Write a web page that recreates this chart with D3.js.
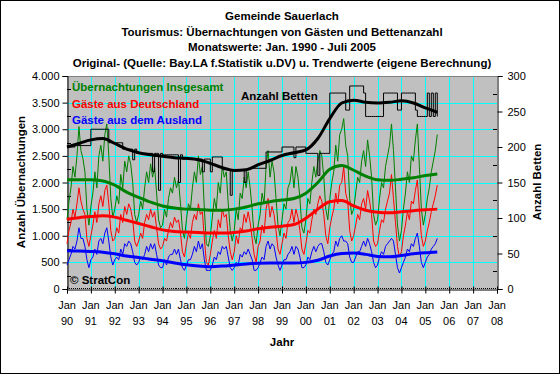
<!DOCTYPE html>
<html>
<head>
  <meta charset="utf-8">
  <title>Gemeinde Sauerlach - Tourismus</title>
  <script src="https://d3js.org/d3.v7.min.js"></script>
  <style>
    body { margin: 0; background: white; }
    svg text { font-family: 'Liberation Sans', Arial, sans-serif; }
    .title { font-size: 11.5px; font-weight: bold; }
    .tick-label { font-size: 11px; }
    .axis-title { font-size: 11.5px; font-weight: bold; }
    .legend { font-size: 11.5px; font-weight: bold; }
  </style>
</head>
<body>
  <svg id="chart"></svg>

  <script type="text/javascript">
    // --- data ---
    var titleLines = [
      "Gemeinde Sauerlach",
      "Tourismus: \u00dcbernachtungen von G\u00e4sten und Bettenanzahl",
      "Monatswerte: Jan. 1990 - Juli 2005",
      "Original- (Quelle: Bay.LA f.Statistik u.DV) u. Trendwerte (eigene Berechnung)"
    ];
    var yTicksLeft = [0, 500, 1000, 1500, 2000, 2500, 3000, 3500, 4000];
    var yTicksRight = [0, 50, 100, 150, 200, 250, 300];
    var xTickYears = [1990, 1991, 1992, 1993, 1994, 1995, 1996, 1997, 1998, 1999,
                      2000, 2001, 2002, 2003, 2004, 2005, 2006, 2007, 2008];
    var xTickLabels = ["90", "91", "92", "93", "94", "95", "96", "97", "98", "99",
                       "00", "01", "02", "03", "04", "05", "06", "07", "08"];

    // monthly values Jan 1990 - Jul 2005, one row per year
    var total = [
      [1300, 1650, 1900, 2300, 2100, 2500, 3050, 2600, 2450, 2200, 1500, 1200],
      [1550, 1800, 2200, 1900, 2500, 2700, 2400, 2900, 3100, 2500, 1700, 1350],
      [1500, 1750, 1600, 2150, 1900, 2400, 2200, 2500, 2350, 2000, 1400, 1250],
      [1400, 1650, 1500, 1900, 2200, 2000, 2350, 2100, 2300, 1800, 1300, 1150],
      [1200, 1500, 1350, 1700, 1900, 1800, 2100, 1900, 2050, 1600, 1100, 950],
      [1300, 1600, 1500, 1900, 2200, 2000, 2500, 2150, 2300, 1500, 850, 800],
      [1000, 1350, 1700, 1500, 2000, 1800, 2300, 2100, 2200, 1600, 1100, 900],
      [1100, 1500, 1300, 1800, 1700, 2100, 1900, 2200, 1900, 1500, 1000, 850],
      [1200, 1400, 1800, 1600, 2300, 2600, 2100, 2400, 2200, 1700, 1200, 1000],
      [1300, 1600, 1500, 1900, 2000, 2300, 1900, 2300, 2100, 1700, 1150, 1050],
      [1300, 1700, 1600, 2000, 2300, 2100, 2400, 2600, 2500, 2100, 1500, 1300],
      [1700, 2000, 2200, 2700, 2400, 2900, 3000, 3200, 2700, 2500, 1700, 1400],
      [1500, 1800, 2100, 2000, 2400, 2600, 2300, 2800, 2500, 2100, 1400, 1200],
      [1300, 1700, 2000, 1900, 2300, 2500, 2700, 3100, 2600, 1900, 1200, 900],
      [1100, 1500, 1800, 2200, 2000, 2500, 2400, 2800, 3100, 2300, 1500, 1200],
      [1400, 1700, 1900, 2200, 2400, 2600, 2900]
    ].flat();

    var germany = [
      [850, 1100, 1250, 1500, 1350, 1600, 1900, 1650, 1500, 1400, 950, 800],
      [1000, 1200, 1450, 1250, 1600, 1750, 1550, 1850, 1950, 1600, 1100, 900],
      [950, 1150, 1050, 1400, 1250, 1550, 1400, 1600, 1500, 1300, 900, 800],
      [900, 1050, 950, 1250, 1400, 1300, 1500, 1350, 1450, 1150, 850, 750],
      [800, 950, 900, 1100, 1250, 1150, 1350, 1250, 1300, 1050, 700, 600],
      [850, 1050, 950, 1250, 1400, 1300, 1600, 1400, 1450, 950, 500, 450],
      [650, 900, 1100, 950, 1300, 1150, 1500, 1350, 1400, 1000, 700, 550],
      [700, 1000, 850, 1150, 1100, 1400, 1250, 1450, 1250, 950, 650, 500],
      [800, 900, 1200, 1050, 1500, 1700, 1350, 1550, 1400, 1100, 750, 650],
      [850, 1050, 950, 1250, 1300, 1500, 1250, 1500, 1350, 1100, 750, 650],
      [850, 1100, 1050, 1300, 1500, 1400, 1600, 1750, 1650, 1400, 1000, 850],
      [1150, 1350, 1500, 1800, 1600, 1950, 2000, 2300, 1800, 1650, 1100, 900],
      [1000, 1200, 1400, 1300, 1600, 1700, 1500, 1850, 1650, 1400, 900, 800],
      [850, 1100, 1300, 1250, 1500, 1650, 1800, 2150, 1700, 1250, 800, 600],
      [700, 1000, 1200, 1450, 1300, 1650, 1600, 1850, 2050, 1500, 1000, 800],
      [900, 1100, 1250, 1450, 1600, 1750, 1950]
    ].flat();

    var abroad = [
      [450, 550, 650, 800, 750, 900, 1150, 950, 950, 800, 550, 400],
      [550, 600, 750, 650, 900, 950, 850, 1050, 1150, 900, 600, 450],
      [550, 600, 550, 750, 650, 850, 800, 900, 850, 700, 500, 450],
      [500, 600, 550, 650, 800, 700, 850, 750, 850, 650, 450, 400],
      [400, 550, 450, 600, 650, 650, 750, 650, 750, 550, 400, 350],
      [450, 550, 550, 650, 800, 700, 900, 750, 850, 550, 350, 350],
      [350, 450, 600, 550, 700, 650, 800, 750, 800, 600, 400, 350],
      [400, 500, 450, 650, 600, 700, 650, 750, 650, 550, 350, 350],
      [400, 500, 600, 550, 800, 900, 750, 850, 800, 600, 450, 350],
      [450, 550, 550, 650, 700, 800, 650, 800, 750, 600, 400, 400],
      [450, 600, 550, 700, 800, 700, 800, 850, 850, 700, 500, 450],
      [550, 650, 700, 900, 800, 950, 1000, 900, 900, 850, 600, 500],
      [500, 600, 700, 700, 800, 900, 800, 950, 850, 700, 500, 400],
      [450, 600, 700, 650, 800, 850, 900, 950, 900, 650, 400, 300],
      [400, 500, 600, 750, 700, 850, 800, 950, 1050, 800, 500, 400],
      [500, 600, 650, 750, 800, 850, 950]
    ].flat();

    var beds = [
      [200, 200, 200, 200, 202, 202, 202, 202, 202, 202, 202, 202],
      [225, 225, 225, 225, 225, 225, 225, 225, 225, 206, 206, 206],
      [206, 206, 206, 206, 197, 197, 197, 197, 197, 182, 197, 191],
      [191, 191, 191, 191, 191, 191, 191, 165, 191, 191, 139, 191],
      [189, 189, 189, 189, 189, 189, 189, 189, 150, 189, 183, 183],
      [183, 183, 183, 183, 183, 183, 183, 183, 165, 183, 183, 183],
      [165, 186, 186, 186, 186, 186, 168, 168, 168, 168, 132, 168],
      [168, 168, 168, 168, 168, 150, 168, 170, 170, 170, 170, 170],
      [170, 170, 170, 170, 193, 193, 193, 193, 193, 193, 193, 193],
      [200, 200, 200, 200, 200, 200, 185, 200, 200, 200, 200, 200],
      [191, 191, 191, 191, 191, 191, 160, 191, 191, 191, 191, 191],
      [276, 276, 276, 276, 276, 276, 276, 276, 252, 252, 286, 286],
      [286, 286, 286, 286, 286, 276, 243, 243, 243, 243, 243, 243],
      [243, 243, 243, 276, 276, 276, 276, 276, 276, 276, 252, 252],
      [276, 276, 276, 276, 276, 276, 276, 252, 243, 243, 243, 243],
      [243, 276, 243, 276, 243, 276, 243]
    ].flat();

    // trend values, half-yearly
    var trendTime = [1990, 1990.5, 1991, 1991.5, 1992, 1992.5, 1993, 1993.5, 1994, 1994.5,
                     1995, 1995.5, 1996, 1996.5, 1997, 1997.5, 1998, 1998.5, 1999, 1999.5,
                     2000, 2000.5, 2001, 2001.5, 2002, 2002.5, 2003, 2003.5, 2004, 2004.5,
                     2005, 2005.5];
    var trendTotal = [2050, 2050, 2050, 2030, 1950, 1820, 1720, 1630, 1560, 1520,
                      1500, 1495, 1480, 1480, 1500, 1540, 1600, 1640, 1670, 1700,
                      1800, 2000, 2250, 2320, 2230, 2120, 2050, 2040, 2060, 2090,
                      2130, 2160];
    var trendGermany = [1310, 1340, 1360, 1375, 1350, 1290, 1230, 1170, 1110, 1080,
                        1070, 1060, 1050, 1050, 1060, 1090, 1130, 1160, 1180, 1210,
                        1330, 1500, 1640, 1660, 1560, 1480, 1440, 1430, 1450, 1470,
                        1490, 1500];
    var trendAbroad = [720, 715, 705, 690, 660, 620, 590, 560, 530, 490,
                       455, 430, 420, 430, 450, 470, 485, 490, 490, 490,
                       500, 540, 620, 665, 675, 650, 610, 605, 630, 660,
                       680, 695];
    var trendBeds = [200, 205, 210, 212, 205, 197, 192, 189, 187, 185,
                     184, 182, 177, 171, 167, 168, 175, 181, 188, 192,
                     196, 212, 240, 262, 266, 263, 262, 263, 265, 262,
                     255, 249];

    // --- layout ---
    var width = 560;
    var height = 374;
    var plot = { left: 67, right: 497, top: 76, bottom: 289 };

    var svg = d3.select("#chart").attr("width", width).attr("height", height);

    // outer frame
    svg.append("rect")
      .attr("x", 0.5).attr("y", 0.5)
      .attr("width", width - 1).attr("height", height - 1)
      .attr("fill", "white").attr("stroke", "black");

    var x = d3.scaleLinear().domain([1990, 2008]).range([plot.left, plot.right]);
    var yL = d3.scaleLinear().domain([0, 4000]).range([plot.bottom, plot.top]);
    var yR = d3.scaleLinear().domain([0, 300]).range([plot.bottom, plot.top]);

    // titles
    svg.selectAll(".title")
      .data(titleLines)
      .enter().append("text")
      .attr("class", "title")
      .attr("x", 282)
      .attr("y", (d, i) => 20 + i * 15.5)
      .attr("text-anchor", "middle")
      .text(d => d);

    // plot background
    svg.append("rect")
      .attr("x", plot.left).attr("y", plot.top)
      .attr("width", plot.right - plot.left).attr("height", plot.bottom - plot.top)
      .attr("fill", "#c0c0c0");

    // gridlines
    var grid = svg.append("g").attr("stroke", "#00ffff").attr("stroke-width", 1);
    grid.selectAll(".hgrid")
      .data(yTicksLeft.filter(d => d > 0 && d < 4000))
      .enter().append("line")
      .attr("x1", plot.left).attr("x2", plot.right)
      .attr("y1", d => Math.round(yL(d)) + 0.5).attr("y2", d => Math.round(yL(d)) + 0.5);
    grid.selectAll(".vgrid")
      .data(xTickYears.filter(d => d > 1990 && d < 2008))
      .enter().append("line")
      .attr("y1", plot.top).attr("y2", plot.bottom)
      .attr("x1", d => Math.round(x(d)) + 0.5).attr("x2", d => Math.round(x(d)) + 0.5);

    // plot border
    svg.append("line")
      .attr("x1", plot.left).attr("x2", plot.right)
      .attr("y1", plot.top + 0.5).attr("y2", plot.top + 0.5)
      .attr("stroke", "#808080");

    // axes
    var leftAxis = d3.axisLeft(yL).tickValues(yTicksLeft).tickSize(5).tickPadding(3)
      .tickFormat(d => d3.format(",")(d).replace(",", "."));
    var gl = svg.append("g").attr("transform", `translate(${plot.left + 0.5},0)`).call(leftAxis);

    var rightAxis = d3.axisRight(yR).tickValues(yTicksRight).tickSize(5).tickPadding(5);
    var gr = svg.append("g").attr("transform", `translate(${plot.right + 0.5},0)`).call(rightAxis);

    var bottomAxis = d3.axisBottom(x).tickValues(xTickYears).tickSize(4).tickFormat("");
    var gb = svg.append("g").attr("transform", `translate(0,${plot.bottom + 0.5})`).call(bottomAxis);

    [gl, gr, gb].forEach(g => {
      g.select(".domain").attr("stroke", "black");
      g.selectAll(".tick line").attr("stroke", "black");
      g.selectAll("text").attr("class", "tick-label").attr("fill", "black")
        .style("font-family", "'Liberation Sans', Arial, sans-serif").style("font-size", "11px");
    });
    // year ticks cross the axis
    gb.selectAll(".tick line").attr("y1", -3);

    // minor ticks: months on x, inward on y axes
    svg.append("g").selectAll("line")
      .data(d3.range(0, 18 * 12))
      .enter().append("line")
      .attr("x1", i => Math.round(x(1990 + i / 12)) + 0.5)
      .attr("x2", i => Math.round(x(1990 + i / 12)) + 0.5)
      .attr("y1", plot.bottom - 1).attr("y2", plot.bottom)
      .attr("stroke", "black");
    svg.append("g").selectAll("line")
      .data(d3.range(250, 4000, 500))
      .enter().append("line")
      .attr("x1", plot.left).attr("x2", plot.left + 4)
      .attr("y1", d => Math.round(yL(d)) + 0.5).attr("y2", d => Math.round(yL(d)) + 0.5)
      .attr("stroke", "black");
    svg.append("g").selectAll("line")
      .data(d3.range(25, 300, 50))
      .enter().append("line")
      .attr("x1", plot.right - 4).attr("x2", plot.right)
      .attr("y1", d => Math.round(yR(d)) + 0.5).attr("y2", d => Math.round(yR(d)) + 0.5)
      .attr("stroke", "black");

    // x tick labels on two lines
    var xl = svg.append("g").attr("class", "tick-label");
    xl.selectAll(".jan")
      .data(xTickYears)
      .enter().append("text")
      .attr("x", d => x(d))
      .attr("y", 309)
      .attr("text-anchor", "middle")
      .attr("class", "tick-label")
      .text("Jan");
    xl.selectAll(".yr")
      .data(xTickYears)
      .enter().append("text")
      .attr("x", d => x(d))
      .attr("y", 325)
      .attr("text-anchor", "middle")
      .attr("class", "tick-label")
      .text((d, i) => xTickLabels[i]);

    // axis titles
    svg.append("text").attr("class", "axis-title")
      .attr("x", 282).attr("y", 346).attr("text-anchor", "middle").text("Jahr");
    svg.append("text").attr("class", "axis-title")
      .attr("transform", "translate(25,182) rotate(-90)")
      .attr("text-anchor", "middle").text("Anzahl \u00dcbernachtungen");
    svg.append("text").attr("class", "axis-title")
      .attr("transform", "translate(541,182) rotate(-90)")
      .attr("text-anchor", "middle").text("Anzahl Betten");

    // series
    var monthLine = (scale) => d3.line()
      .x((d, i) => x(1990 + i / 12))
      .y(d => scale(d));

    var content = svg.append("g");

    var rawSeries = [
      { values: total, color: "#008000" },
      { values: germany, color: "#ff0000" },
      { values: abroad, color: "#0000ff" }
    ];
    rawSeries.forEach(s => {
      content.append("path")
        .datum(s.values)
        .attr("fill", "none")
        .attr("stroke", s.color)
        .attr("stroke-width", 1)
        .attr("d", monthLine(yL));
    });

    content.append("path")
      .datum(beds)
      .attr("fill", "none")
      .attr("stroke", "black")
      .attr("stroke-width", 1)
      .attr("d", monthLine(yR).curve(d3.curveStepAfter));

    var trendLine = (scale) => d3.line()
      .x((d, i) => x(trendTime[i]))
      .y(d => scale(d))
      .curve(d3.curveMonotoneX);

    [
      { values: trendTotal, color: "#008000", scale: yL },
      { values: trendGermany, color: "#ff0000", scale: yL },
      { values: trendAbroad, color: "#0000ff", scale: yL },
      { values: trendBeds, color: "black", scale: yR }
    ].forEach(s => {
      content.append("path")
        .datum(s.values)
        .attr("fill", "none")
        .attr("stroke", s.color)
        .attr("stroke-width", 3)
        .attr("d", trendLine(s.scale));
    });

    // legend texts
    var legend = [
      { text: "\u00dcbernachtungen Insgesamt", color: "#008000", x: 72, y: 91 },
      { text: "G\u00e4ste aus Deutschland", color: "#ff0000", x: 72, y: 108 },
      { text: "G\u00e4ste aus dem Ausland", color: "#0000ff", x: 72, y: 124 },
      { text: "Anzahl Betten", color: "black", x: 241, y: 100 },
      { text: "\u00a9 StratCon", color: "black", x: 70, y: 284 }
    ];
    svg.selectAll(".legend")
      .data(legend)
      .enter().append("text")
      .attr("class", "legend")
      .attr("x", d => d.x)
      .attr("y", d => d.y)
      .attr("fill", d => d.color)
      .text(d => d.text);
  </script>
</body>
</html>
